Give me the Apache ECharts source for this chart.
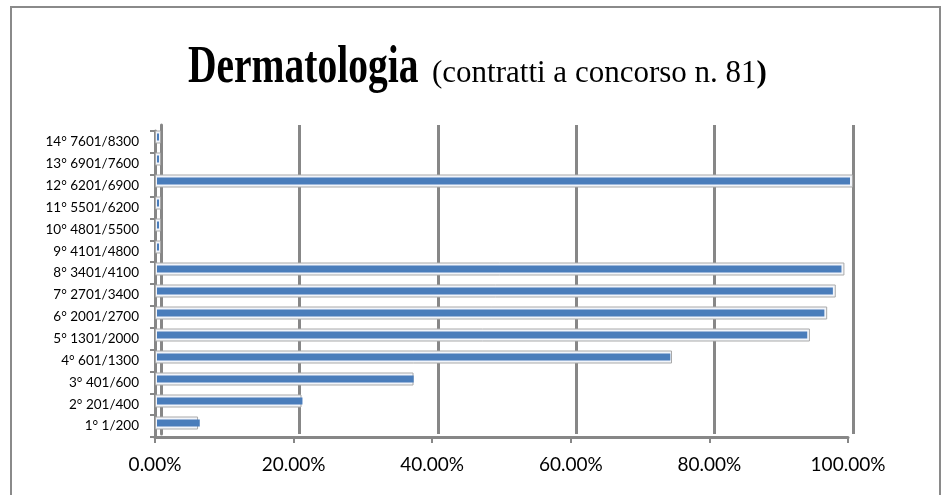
<!DOCTYPE html>
<html>
<head>
<meta charset="utf-8">
<script src="https://cdn.jsdelivr.net/npm/echarts@6/dist/echarts.min.js"></script>
<style>
  html, body { margin: 0; padding: 0; background: #fff; }
  #main { width: 942px; height: 495px; }
  #frame { position: absolute; left: 10px; top: 6px; width: 927px; height: 520px;
           border: 2px solid #8a8a8a; pointer-events: none; }
</style>
</head>
<body>
<div id="main"></div>
<div id="frame"></div>
<script>
// fasce di posizione in graduatoria
var categories = ['1° 1/200', '2° 201/400', '3° 401/600', '4° 601/1300', '5° 1301/2000',
    '6° 2001/2700', '7° 2701/3400', '8° 3401/4100', '9° 4101/4800', '10° 4801/5500',
    '11° 5501/6200', '12° 6201/6900', '13° 6901/7600', '14° 7601/8300'];
// percentuale contratti assegnati
var percent = [6.17, 20.99, 37.04, 74.07, 93.83, 96.30, 97.53, 98.77, 0, 0, 0, 100, 0, 0];
var xTicks = [0, 20, 40, 60, 80, 100];

var gridColor = '#878787';
var labelFont = 'Lato, "Open Sans", sans-serif';

var myChart = echarts.init(document.getElementById('main'));

var option = {
    animation: false,
    graphic: [
        {
            type: 'text', x: 188, y: 69, scaleX: 0.76,
            style: { text: 'Dermatologia', font: 'bold 52px "Liberation Serif"', fill: '#000',
                     align: 'left', verticalAlign: 'middle' }
        },
        {
            type: 'text', x: 432, y: 74,
            style: {
                text: '{r|(contratti a concorso n. 81}{b|)}',
                align: 'left', verticalAlign: 'middle',
                rich: {
                    r: { font: '31px "Liberation Serif"', fill: '#000' },
                    b: { font: 'bold 31px "Liberation Serif"', fill: '#000' }
                }
            }
        }
    ],
    grid: [
        { left: 161, right: 89, top: 125, bottom: 61 },   // parete di fondo
        { left: 155, right: 89, top: 126, bottom: 61 },   // contorno barre
        { left: 157, right: 92, top: 126, bottom: 61 },   // barre blu
        { left: 155, right: 94, top: 131, bottom: 58 }    // assi frontali
    ],
    xAxis: [
        { gridIndex: 0, type: 'value', min: 0, max: 100, interval: 20,
          axisLine: { show: false }, axisTick: { show: false }, axisLabel: { show: false },
          splitLine: { show: true, lineStyle: { color: gridColor, width: 3 } } },
        { gridIndex: 1, type: 'value', min: 0, max: 100, show: false, splitLine: { show: false } },
        { gridIndex: 2, type: 'value', min: 0, max: 100, show: false, splitLine: { show: false } },
        { gridIndex: 3, type: 'value', min: 0, max: 100, interval: 20,
          axisLine: { show: true, lineStyle: { color: gridColor, width: 3 } },
          axisTick: { show: true, length: 6, lineStyle: { color: gridColor, width: 2 } },
          splitLine: { show: false },
          axisLabel: {
              margin: 18, color: '#000', fontFamily: labelFont, fontSize: 19,
              customValues: xTicks,
              formatter: function (v) { return v.toFixed(2) + '%'; }
          }
        }
    ],
    yAxis: [
        { gridIndex: 0, type: 'category', data: categories,
          axisLine: { show: true, lineStyle: { color: gridColor, width: 3 } },
          axisTick: { show: false }, axisLabel: { show: false } },
        { gridIndex: 1, type: 'category', data: categories, show: false },
        { gridIndex: 2, type: 'category', data: categories, show: false },
        { gridIndex: 3, type: 'category', data: categories,
          axisLine: { show: true, lineStyle: { color: gridColor, width: 3 } },
          axisTick: { show: true, length: 5, inside: false, lineStyle: { color: gridColor, width: 2 } },
          axisLabel: { margin: 16, color: '#000', fontFamily: labelFont, fontSize: 13.5 } }
    ],
    series: [
        {
            type: 'bar', xAxisIndex: 1, yAxisIndex: 1, data: percent, barWidth: 13, barMinHeight: 6,
            itemStyle: { color: '#f2f5fa', borderColor: '#a9a9a9', borderWidth: 1 }
        },
        {
            type: 'bar', xAxisIndex: 2, yAxisIndex: 2, data: percent, barWidth: 7, barMinHeight: 2,
            itemStyle: { color: '#4a7dbb' }
        }
    ]
};

myChart.setOption(option);
</script>
</body>
</html>
